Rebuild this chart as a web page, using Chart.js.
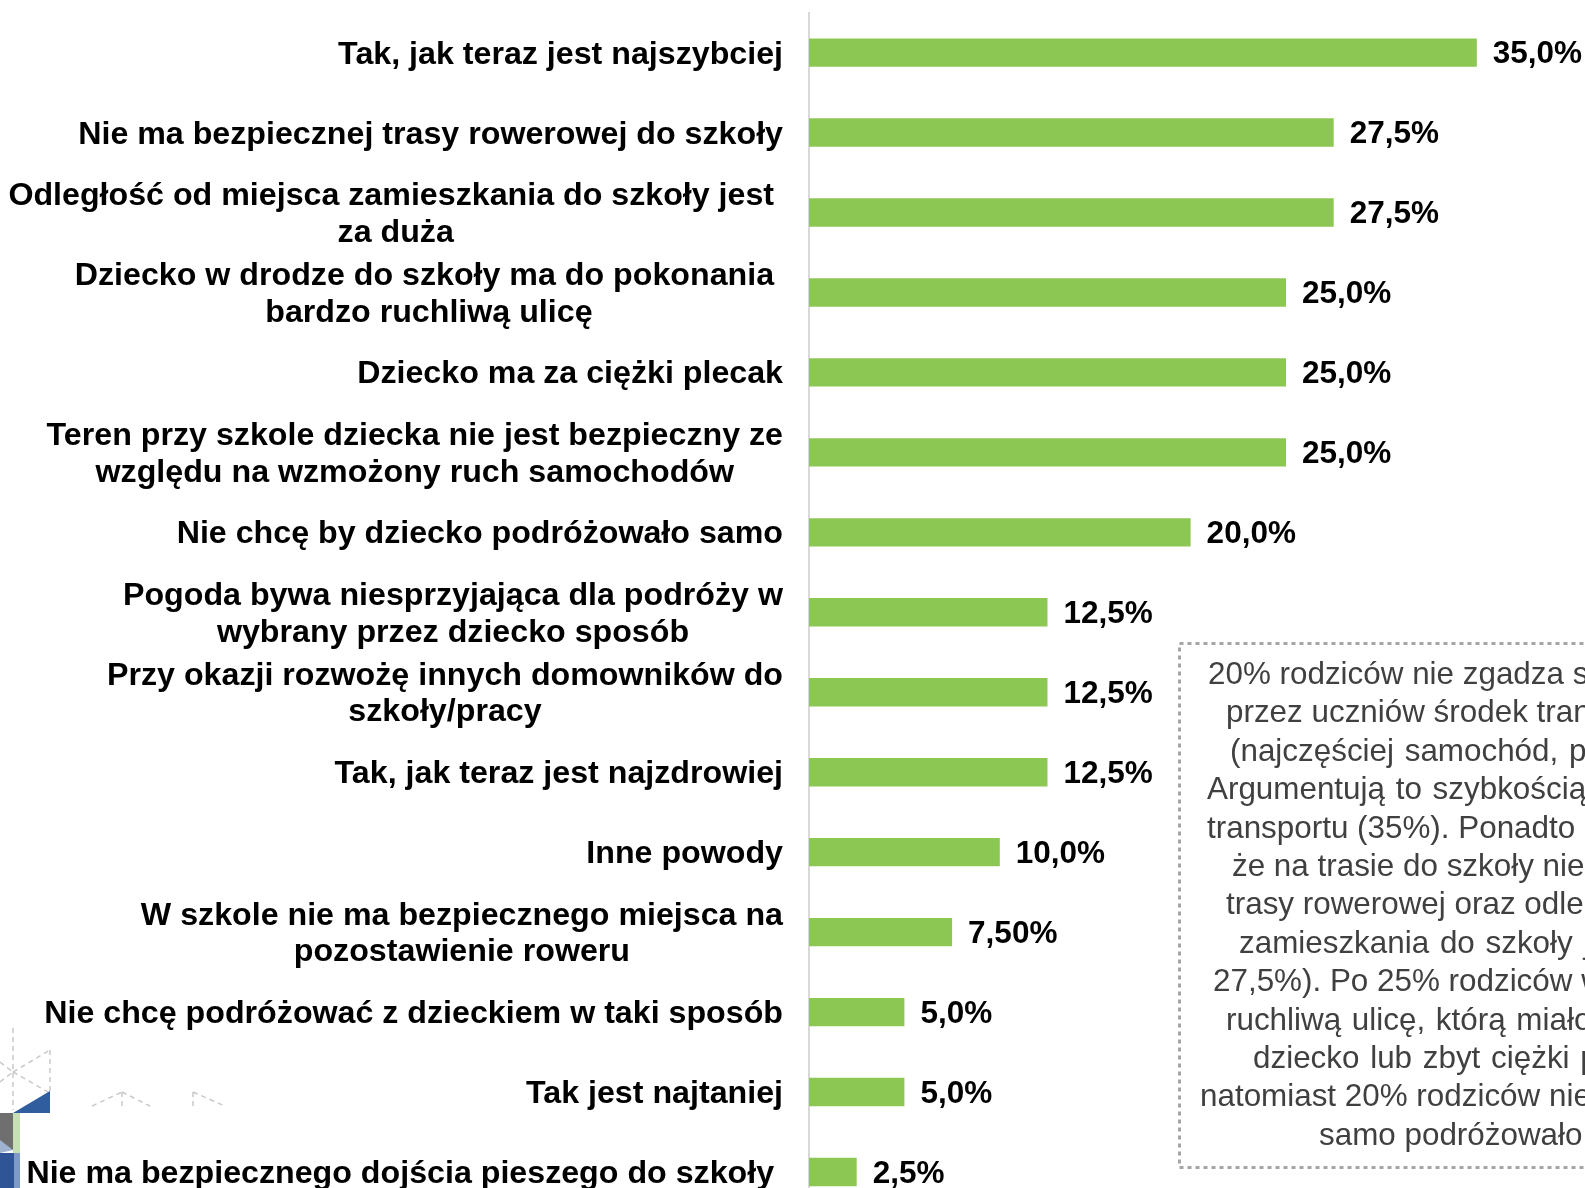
<!DOCTYPE html>
<html>
<head>
<meta charset="utf-8">
<script src="https://cdn.jsdelivr.net/npm/chart.js@4/dist/chart.umd.min.js"></script>
<style>
  html, body { margin:0; padding:0; background:#ffffff; overflow:hidden; width:1585px; height:1188px; }
  #wrap { position:absolute; left:0; top:0; width:1585px; height:1212px; }
  #logo { position:absolute; left:0; top:0; }
  #note { position:absolute; left:0; top:0; width:1585px; height:1188px; pointer-events:none; }
  .ln { position:absolute; white-space:pre; font-family:"Liberation Sans", Arial, sans-serif; font-size:31.4px; line-height:38.4px; color:#404040; }
</style>
</head>
<body>
<svg id="logo" width="260" height="1188">
  <g stroke="#c9c9c9" stroke-width="1.5" stroke-dasharray="5 4" fill="none">
    <line x1="13" y1="1028" x2="13" y2="1110"/>
    <line x1="50" y1="1050" x2="50" y2="1092"/>
    <line x1="13" y1="1072" x2="50" y2="1050"/>
    <line x1="13" y1="1072" x2="48" y2="1092"/>
    <line x1="0" y1="1062" x2="13" y2="1072"/>
    <line x1="0" y1="1082" x2="13" y2="1072"/>
    <line x1="92" y1="1106" x2="122" y2="1092"/>
    <line x1="122" y1="1092" x2="150" y2="1106"/>
    <line x1="122" y1="1092" x2="122" y2="1108"/>
    <line x1="193" y1="1092" x2="225" y2="1106"/>
    <line x1="193" y1="1092" x2="193" y2="1108"/>
  </g>
  <polygon points="13,1113 50,1091 50,1113" fill="#2f5d9e"/>
  <polygon points="0,1113 13,1113 13,1150 0,1150" fill="#6f6f6f"/>
  <polygon points="0,1140 13,1150 0,1153" fill="#9fb2cf"/>
  <rect x="13" y="1113" width="7" height="40" fill="#c6e0b4"/>
  <rect x="0" y="1153" width="14" height="35" fill="#2f5597"/>
  <rect x="14" y="1153" width="6" height="35" fill="#7e9ac6"/>
</svg>
<div id="wrap"><canvas id="c"></canvas></div>
<svg id="note" width="1585" height="1188">
  <rect x="1179.5" y="643.5" width="600" height="524" fill="none" stroke="#a6a6a6" stroke-width="3" stroke-dasharray="4 4"/>
</svg>
<div id="noteText"></div>
<script>
// ---- data ----
const categories = [
  ["Tak, jak teraz jest najszybciej"],
  ["Nie ma bezpiecznej trasy rowerowej do szkoły"],
  ["Odległość od miejsca zamieszkania do szkoły jest ", "za duża"],
  ["Dziecko w drodze do szkoły ma do pokonania ", "bardzo ruchliwą ulicę"],
  ["Dziecko ma za ciężki plecak"],
  ["Teren przy szkole dziecka nie jest bezpieczny ze", "względu na wzmożony ruch samochodów"],
  ["Nie chcę by dziecko podróżowało samo"],
  ["Pogoda bywa niesprzyjająca dla podróży w", "wybrany przez dziecko sposób"],
  ["Przy okazji rozwożę innych domowników do", "szkoły/pracy"],
  ["Tak, jak teraz jest najzdrowiej"],
  ["Inne powody"],
  ["W szkole nie ma bezpiecznego miejsca na", "pozostawienie roweru"],
  ["Nie chcę podróżować z dzieckiem w taki sposób"],
  ["Tak jest najtaniej"],
  ["Nie ma bezpiecznego dojścia pieszego do szkoły "]
];
const values = [35.0, 27.5, 27.5, 25.0, 25.0, 25.0, 20.0, 12.5, 12.5, 12.5, 10.0, 7.5, 5.0, 5.0, 2.5];
const valueLabels = ["35,0%", "27,5%", "27,5%", "25,0%", "25,0%", "25,0%", "20,0%", "12,5%", "12,5%", "12,5%", "10,0%", "7,50%", "5,0%", "5,0%", "2,5%"];
const noteLines = [
  "20% rodziców nie zgadza się z wybranym",
  "przez uczniów środek transportu",
  "(najczęściej samochód, pieszo).",
  "Argumentują to szybkością tego środka",
  "transportu (35%). Ponadto rodzice",
  "że na trasie do szkoły nie ma bezpiecznej",
  "trasy rowerowej oraz odległość od miejsca",
  "zamieszkania do szkoły jest za duża (po",
  "27,5%). Po 25% rodziców wskazało na",
  "ruchliwą ulicę, którą miało do pokonania",
  "dziecko lub zbyt ciężki plecak,",
  "natomiast 20% rodziców nie chce by dziecko",
  "samo podróżowało."
];

// ---- annotation text ----
const noteLeft = [1208, 1226, 1230, 1207, 1207, 1232, 1226, 1239, 1213, 1226, 1253, 1200, 1319];
const noteSpacing = [0, 0, 2, 2, 0, 0, 0, 2, 0, 2, 2, 0, 0];
const nt = document.getElementById('noteText');
noteLines.forEach((t, i) => {
  const d = document.createElement('div');
  d.className = 'ln';
  d.textContent = t;
  d.style.left = noteLeft[i] + 'px';
  d.style.top = (655 + i * 38.4) + 'px';
  d.style.wordSpacing = noteSpacing[i] + 'px';
  nt.appendChild(d);
});

// ---- plugins ----
const FONT = '"Liberation Sans", Arial, sans-serif';
const labelPlugin = {
  id: 'catLabels',
  afterDraw(chart) {
    const ctx = chart.ctx;
    const ys = chart.scales.y;
    const right = chart.chartArea.left - 26;
    ctx.save();
    ctx.fillStyle = '#000000';
    ctx.font = 'bold 32.2px ' + FONT;
    ctx.textBaseline = 'alphabetic';
    ctx.textAlign = 'left';
    const lh = 36.4;
    categories.forEach((lines, i) => {
      const cy = ys.getPixelForValue(i);
      const w = Math.max(...lines.map(l => ctx.measureText(l).width));
      const cx = right - w / 2;
      const y0 = cy - (lines.length - 1) * lh / 2;
      lines.forEach((l, j) => {
        const lw = ctx.measureText(l).width;
        ctx.fillText(l.replace(/\s+$/, ''), cx - lw / 2, y0 + j * lh + 11);
      });
    });
    // value labels
    ctx.font = 'bold 31.5px ' + FONT;
    const meta = chart.getDatasetMeta(0);
    meta.data.forEach((bar, i) => {
      ctx.fillText(valueLabels[i], bar.x + 16, bar.y + 10.8);
    });
    ctx.restore();
  }
};

new Chart(document.getElementById('c'), {
  type: 'bar',
  data: {
    labels: categories,
    datasets: [{
      data: values,
      backgroundColor: '#8dc753',
      borderWidth: 0,
      barPercentage: 0.355,
      categoryPercentage: 1.0
    }]
  },
  options: {
    indexAxis: 'y',
    responsive: true,
    maintainAspectRatio: false,
    animation: false,
    layout: { padding: { top: 12.6, left: 0, right: 0, bottom: 0 } },
    plugins: { legend: { display: false }, tooltip: { enabled: false } },
    scales: {
      x: { display: false, min: 0, max: 40.67 },
      y: {
        grid: { display: false, drawTicks: false },
        border: { display: true, color: '#d9d9d9', width: 2 },
        ticks: { display: false },
        afterFit(s) { s.width = 809; }
      }
    }
  },
  plugins: [labelPlugin]
});
</script>
</body>
</html>
